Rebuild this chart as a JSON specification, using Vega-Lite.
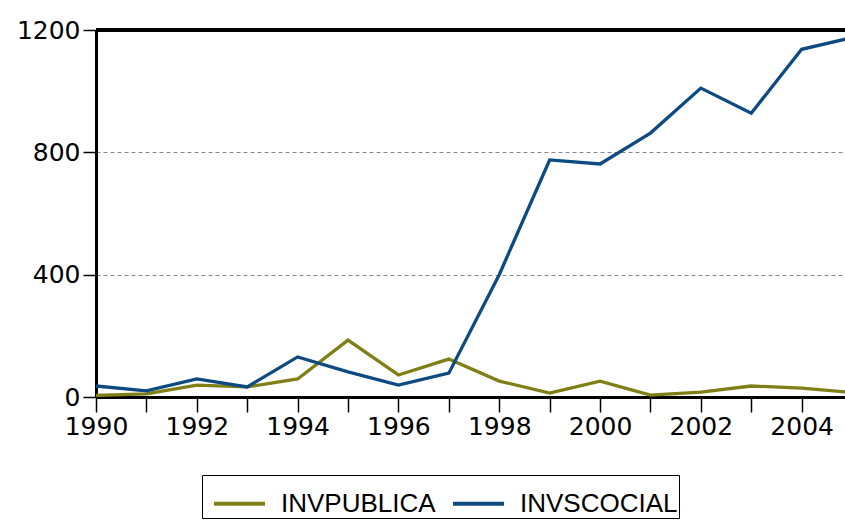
{
  "$schema": "https://vega.github.io/schema/vega-lite/v6.json",
  "autosize": "none",
  "width": 749,
  "height": 367,
  "padding": {"left": 96, "top": 30, "right": 0, "bottom": 123},
  "background": "white",
  "config": {"view": {"stroke": null}},
  "data": {"values": [
    {"year": 1990, "series": "INVPUBLICA", "value": 5},
    {"year": 1991, "series": "INVPUBLICA", "value": 10},
    {"year": 1992, "series": "INVPUBLICA", "value": 39},
    {"year": 1993, "series": "INVPUBLICA", "value": 33},
    {"year": 1994, "series": "INVPUBLICA", "value": 59},
    {"year": 1995, "series": "INVPUBLICA", "value": 186},
    {"year": 1996, "series": "INVPUBLICA", "value": 72},
    {"year": 1997, "series": "INVPUBLICA", "value": 124},
    {"year": 1998, "series": "INVPUBLICA", "value": 52},
    {"year": 1999, "series": "INVPUBLICA", "value": 13},
    {"year": 2000, "series": "INVPUBLICA", "value": 52},
    {"year": 2001, "series": "INVPUBLICA", "value": 6},
    {"year": 2002, "series": "INVPUBLICA", "value": 16},
    {"year": 2003, "series": "INVPUBLICA", "value": 36},
    {"year": 2004, "series": "INVPUBLICA", "value": 29},
    {"year": 2005, "series": "INVPUBLICA", "value": 15},
    {"year": 1990, "series": "INVSCOCIAL", "value": 36},
    {"year": 1991, "series": "INVSCOCIAL", "value": 20},
    {"year": 1992, "series": "INVSCOCIAL", "value": 59},
    {"year": 1993, "series": "INVSCOCIAL", "value": 33},
    {"year": 1994, "series": "INVSCOCIAL", "value": 131},
    {"year": 1995, "series": "INVSCOCIAL", "value": 82},
    {"year": 1996, "series": "INVSCOCIAL", "value": 39},
    {"year": 1997, "series": "INVSCOCIAL", "value": 78},
    {"year": 1998, "series": "INVSCOCIAL", "value": 400},
    {"year": 1999, "series": "INVSCOCIAL", "value": 775},
    {"year": 2000, "series": "INVSCOCIAL", "value": 762},
    {"year": 2001, "series": "INVSCOCIAL", "value": 863},
    {"year": 2002, "series": "INVSCOCIAL", "value": 1010},
    {"year": 2003, "series": "INVSCOCIAL", "value": 928},
    {"year": 2004, "series": "INVSCOCIAL", "value": 1137},
    {"year": 2005, "series": "INVSCOCIAL", "value": 1175}
  ]},
  "layer": [
    {
      "mark": {"type": "line", "strokeWidth": 3.3, "clip": true},
      "encoding": {
        "x": {"field": "year", "type": "quantitative",
          "scale": {"domain": [1990, 2004.86], "nice": false, "zero": false},
          "axis": {"title": null, "values": [1990,1991,1992,1993,1994,1995,1996,1997,1998,1999,2000,2001,2002,2003,2004],
            "labelExpr": "datum.value % 2 == 0 ? datum.value : ''",
            "grid": false, "domainColor": "black", "domainWidth": 3, "tickColor": "black", "tickWidth": 1.5, "tickSize": 15,
            "labelFont": "DejaVu Sans", "labelFontSize": 25, "labelColor": "black", "labelPadding": 2, "labelOverlap": false, "labelFlush": false}},
        "y": {"field": "value", "type": "quantitative",
          "scale": {"domain": [0, 1200], "nice": false},
          "axis": {"title": null, "values": [0, 400, 800, 1200], "format": "d",
            "grid": true, "gridDash": [4, 3], "gridColor": "#888888", "gridWidth": 1,
            "domainColor": "black", "domainWidth": 3, "tickColor": "black", "tickWidth": 1.5, "tickSize": 13,
            "labelFont": "DejaVu Sans", "labelFontSize": 25, "labelColor": "black", "labelPadding": 3}},
        "color": {"field": "series", "type": "nominal",
          "scale": {"domain": ["INVPUBLICA", "INVSCOCIAL"], "range": ["#7f7f16", "#0e4a82"]},
          "legend": {"title": null, "orient": "none", "legendX": 106, "legendY": 445, "direction": "horizontal",
            "symbolType": "stroke", "symbolSize": 2601, "symbolStrokeWidth": 4, "symbolOffset": 9,
            "labelFont": "Liberation Sans", "labelFontSize": 26, "labelColor": "black", "labelOffset": 14,
            "columnPadding": 6, "strokeColor": "black", "padding": 1, "labelLimit": 300}}
      }
    },
    {
      "mark": {"type": "rule", "color": "black", "strokeWidth": 3},
      "encoding": {"y": {"datum": 1200}}
    }
  ]
}
